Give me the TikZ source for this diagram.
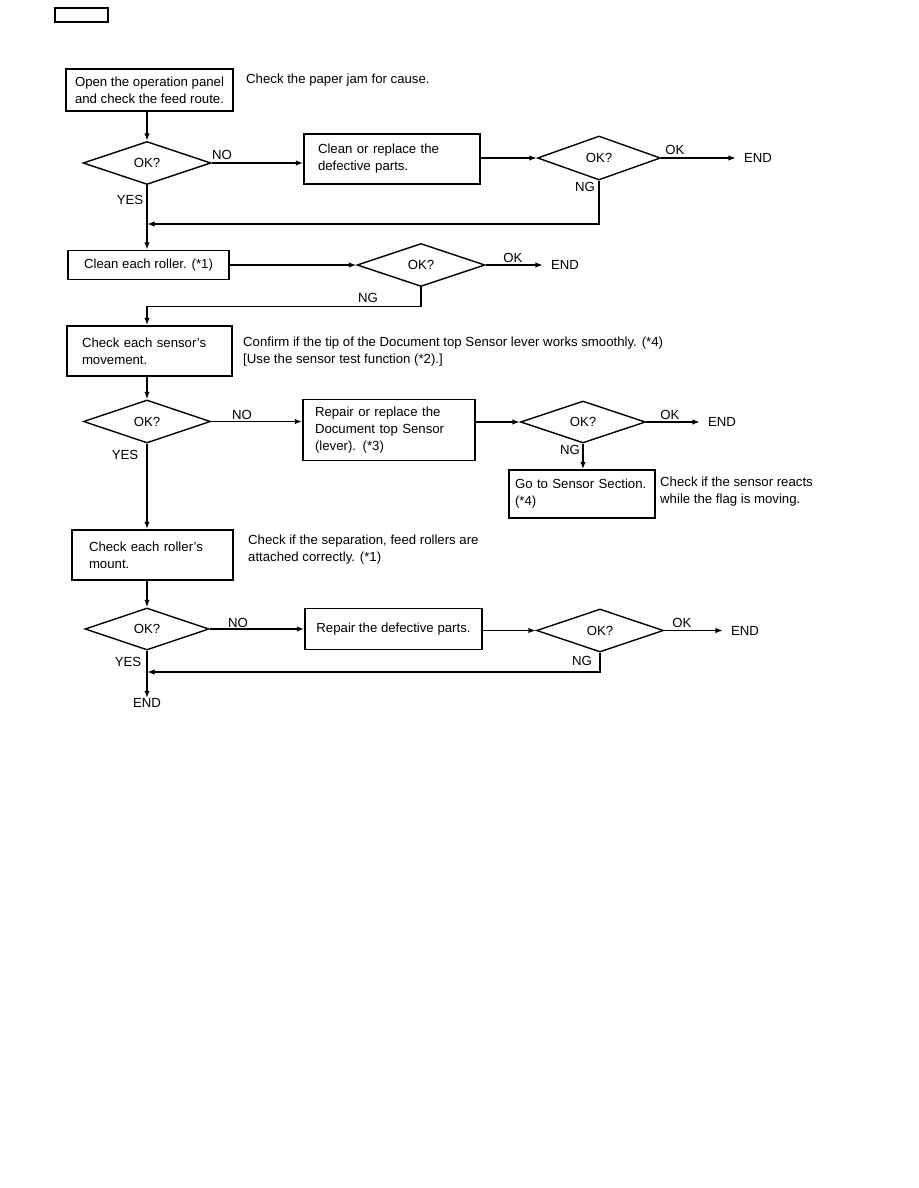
\documentclass[tikz,border=0pt]{standalone}
\usepackage{fontspec}
\setmainfont{Liberation Sans}
\usetikzlibrary{shapes.geometric,arrows.meta}
\begin{document}
\begin{tikzpicture}[x=1pt,y=-1pt,
  every node/.style={font=\fontsize{13.2}{17}\selectfont},
  box/.style={draw,line width=1.5pt,rectangle,inner ysep=0pt,align=left},
  cbox/.style={draw,line width=1.5pt,rectangle,inner sep=0pt,align=center},
  lbox/.style={draw,line width=1.5pt,rectangle,inner sep=0pt,align=left},
  dia/.style={draw,line width=1.4pt,diamond,inner sep=0pt},
  lbl/.style={inner sep=0pt},
  ann/.style={inner sep=0pt,anchor=west,align=left},
  endn/.style={inner xsep=8pt,inner ysep=0pt},
  arr/.style={line width=1.5pt,-{Latex[length=7.5pt,width=5.5pt]}}]
\useasboundingbox (0,0) rectangle (918,1188);
% header box
\node[draw,line width=1.4pt,minimum width=53pt,minimum height=14pt,inner sep=0pt] (hdr) at (81.5,15) {};
% row 1
\node[lbox,minimum width=167pt,minimum height=42pt] (b1) at (149.5,90) {Open the operation panel\\and check the feed route.};
\node[ann] (a1) at (246,80) {Check the paper jam for cause.};
\node[dia,minimum width=128pt,minimum height=43pt] (d1) at (147,163) {OK?};
\node[box,minimum width=176pt,minimum height=50pt,text width=148pt,inner xsep=14pt] (b2) at (392,159) {Clean or replace the\\defective parts.};
\node[dia,minimum width=123pt,minimum height=44pt] (d2) at (599,158) {OK?};
\node[endn] (e2) at (758,158) {END};
\node[lbl] (l1) at (222,155) {NO};
\node[lbl] (l2) at (130,200) {YES};
\node[lbl] (l3) at (675,150) {OK};
\node[lbl] (l4) at (585,187) {NG};
\coordinate (j1) at (147,224);
\draw[arr] (d1.north |- b1.south) -- (d1.north);
\draw[arr] (d1.east) -- (d1.east -| b2.west);
\draw[arr] (d2.west -| b2.east) -- (d2.west);
\draw[arr] (d2.east) -- (e2.west);
\draw[arr] (d2.south) |- (j1);
% row 2
\node[cbox,minimum width=161pt,minimum height=29pt] (b3) at (148.5,265) {Clean each roller. (*1)};
\node[dia,minimum width=128pt,minimum height=43pt] (d3) at (421,265) {OK?};
\node[endn] (e3) at (565,265) {END};
\node[lbl] (l5) at (513,258) {OK};
\node[lbl] (l6) at (368,298) {NG};
\draw[arr] (d1.south) -- (d1.south |- b3.north);
\draw[arr] (b3.east) -- (d3.west);
\draw[arr] (d3.east) -- (e3.west);
% row 3
\node[box,minimum width=165pt,minimum height=50pt,text width=135pt,inner xsep=15pt] (b4) at (149.5,351) {Check each sensor's\\movement.};
\node[ann] (a2) at (243,352) {Confirm if the tip of the Document top Sensor lever works smoothly. (*4)\\{[Use the sensor test function (*2).]}};
\draw[arr] (d3.south) -- ++(0,19.5) -| (b4.north -| d1.south);
\node[dia,minimum width=127pt,minimum height=43pt] (d4) at (147,421.5) {OK?};
\node[box,minimum width=172pt,minimum height=61pt,text width=148pt,inner xsep=12pt] (b5) at (389,430) {Repair or replace the\\Document top Sensor\\(lever). (*3)};
\node[dia,minimum width=125pt,minimum height=42pt] (d5) at (583,422) {OK?};
\node[endn] (e5) at (722,422) {END};
\node[box,minimum width=146pt,minimum height=48pt,text width=134pt,inner xsep=6pt] (b6) at (582,494) {Go to Sensor Section.\\(*4)};
\node[ann] (a3) at (660,492) {Check if the sensor reacts\\while the flag is moving.};
\node[lbl] (l7) at (242,415) {NO};
\node[lbl] (l8) at (125,455) {YES};
\node[lbl] (l9) at (670,415) {OK};
\node[lbl] (l10) at (570,450) {NG};
\draw[arr] (b4.south -| d4.north) -- (d4.north);
\draw[arr] (d4.east) -- (d4.east -| b5.west);
\draw[arr] (d5.west -| b5.east) -- (d5.west);
\draw[arr] (d5.east) -- (e5.west);
\draw[arr] (d5.south) -- (d5.south |- b6.north);
% row 4
\node[box,minimum width=161pt,minimum height=50pt,text width=127pt,inner xsep=17pt] (b7) at (152.5,555) {Check each roller's\\mount.};
\node[ann] (a4) at (248,550) {Check if the separation, feed rollers are\\attached correctly. (*1)};
\node[dia,minimum width=124pt,minimum height=42pt] (d6) at (147,629) {OK?};
\node[cbox,minimum width=177pt,minimum height=41pt] (b8) at (393.5,629) {Repair the defective parts.};
\node[dia,minimum width=127pt,minimum height=43pt] (d7) at (600,630.5) {OK?};
\node[endn] (e7) at (745,630.5) {END};
\node[endn] (e8) at (147,703) {END};
\node[lbl] (l11) at (238,623) {NO};
\node[lbl] (l12) at (128,662) {YES};
\node[lbl] (l13) at (682,623) {OK};
\node[lbl] (l14) at (582,661) {NG};
\coordinate (j2) at (147,672);
\draw[arr] (d4.south) -- (d4.south |- b7.north);
\draw[arr] (b7.south -| d6.north) -- (d6.north);
\draw[arr] (d6.east) -- (d6.east -| b8.west);
\draw[arr] (d7.west -| b8.east) -- (d7.west);
\draw[arr] (d7.east) -- (e7.west);
\draw[arr] (d7.south) |- (j2);
\draw[arr] (d6.south) -- (e8.north);
\end{tikzpicture}
\end{document}
